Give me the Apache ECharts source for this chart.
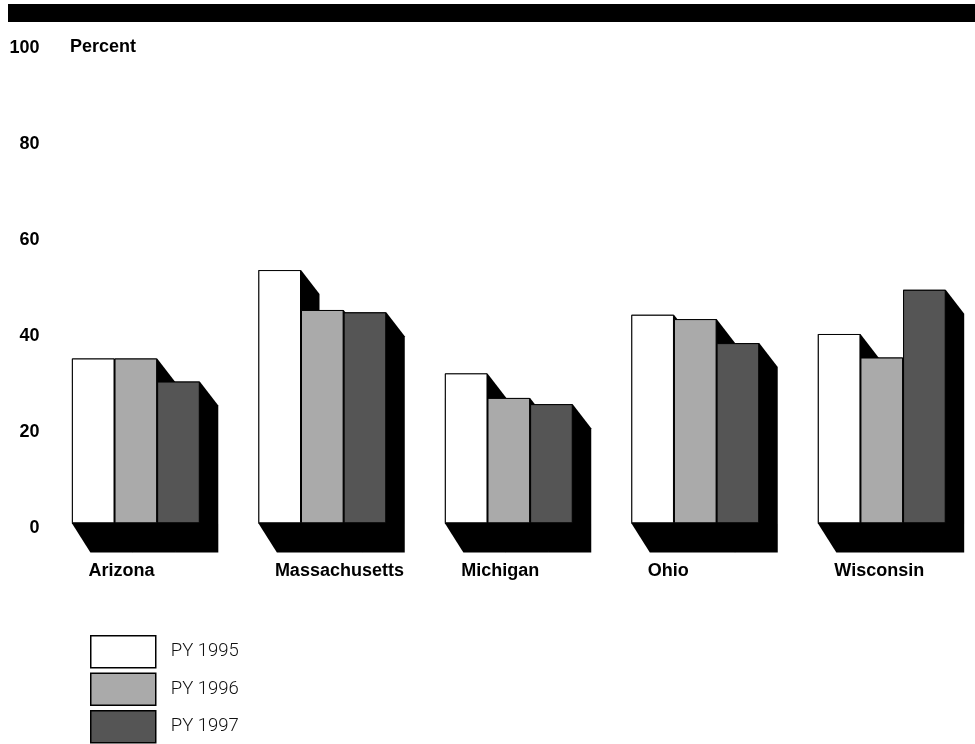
<!DOCTYPE html>
<html>
<head>
<meta charset="utf-8">
<script src="https://cdn.jsdelivr.net/npm/echarts@6/dist/echarts.min.js"></script>
<style>
html,body{margin:0;padding:0;background:#fff;}
#chart{width:975px;height:744px;}
</style>
</head>
<body>
<div id="chart"></div>
<script>
const categories = ['Arizona', 'Massachusetts', 'Michigan', 'Ohio', 'Wisconsin'];
const py1995 = [34.3, 52.7, 31.2, 43.4, 39.4];
const py1996 = [34.3, 44.4, 26.1, 42.5, 34.5];
const py1997 = [29.5, 43.9, 24.8, 37.5, 48.6];
const seriesNames = ['PY 1995', 'PY 1996', 'PY 1997'];
const yMin = 0, yMax = 100, yStep = 20;

const BAR_RATIO = 0.2286;
const DX = 18.5, DYT = 24, DYB = 29.3;
const colors = ['#ffffff', '#aaaaaa', '#555555'];
const legendTops = [635, 672.5, 710];

const chart = echarts.init(document.getElementById('chart'), null, {renderer: 'canvas'});

function renderShadow(params, api) {
  const i = api.value(0);
  const base = api.coord([i, 0]);
  const bandW = api.size([1, 0])[0];
  const bw = bandW * BAR_RATIO;
  const x0 = base[0] - 1.5 * bw;
  const yB = base[1];
  const children = [];
  for (let k = 0; k < 3; k++) {
    const v = api.value(k + 1);
    const yT = api.coord([i, v])[1];
    const a = x0 + k * bw, b = a + bw;
    children.push({
      type: 'polygon',
      shape: {points: [[a, yB], [a + DX, yB + DYB], [b + DX, yB + DYB], [b + DX, yT + DYT], [b, yT], [a, yT]]},
      style: {fill: '#000'}
    });
  }
  children.push({
    type: 'text',
    style: {
      text: categories[i], x: x0 + 16.5, y: yB + 47.5,
      align: 'left', verticalAlign: 'middle',
      fontFamily: 'Liberation Sans, Arial, sans-serif', fontWeight: 'bold', fontSize: 18, fill: '#000'
    }
  });
  return {type: 'group', children};
}

const barSeries = [py1995, py1996, py1997].map((d, k) => ({
  name: seriesNames[k],
  type: 'bar',
  data: d,
  barWidth: (BAR_RATIO * 100) + '%',
  barGap: '0%',
  z: 3,
  itemStyle: {color: colors[k], borderColor: '#000', borderWidth: 1}
}));

const legends = seriesNames.map((n, k) => ({
  orient: 'vertical', left: 90, top: legendTops[k], padding: 0,
  itemWidth: 65, itemHeight: 32, icon: 'rect',
  selectedMode: false,
  data: [n],
  itemStyle: {borderColor: '#000', borderWidth: 1.5},
  textStyle: {fontFamily: 'Roboto, Lato, sans-serif', fontWeight: 300, fontSize: 18.5, color: '#111', padding: [4, 0, 0, 10]}
}));

chart.setOption({
  animation: false,
  backgroundColor: '#fff',
  grid: {left: 42.6, top: 42.8, width: 934, height: 480.5, containLabel: false},
  xAxis: {
    type: 'category', data: categories,
    axisLine: {show: false}, axisTick: {show: false}, axisLabel: {show: false}, splitLine: {show: false}
  },
  yAxis: {
    type: 'value', min: yMin, max: yMax, interval: yStep,
    axisLine: {show: false}, axisTick: {show: false}, splitLine: {show: false},
    axisLabel: {
      color: '#000', fontWeight: 'bold', fontSize: 18,
      fontFamily: 'Liberation Sans, Arial, sans-serif', margin: 3,
      verticalAlign: 'top', lineHeight: 10
    }
  },
  legend: legends,
  graphic: [
    {type: 'rect', left: 8, top: 4, shape: {width: 967, height: 18}, style: {fill: '#000'}},
    {type: 'text', left: 70, top: 38, style: {text: 'Percent', fontFamily: 'Liberation Sans, Arial, sans-serif', fontWeight: 'bold', fontSize: 18, fill: '#000'}}
  ],
  series: [
    {
      type: 'custom', name: 'shadow', z: 1,
      renderItem: renderShadow,
      encode: {x: 0, y: 1},
      data: categories.map((c, i) => [i, py1995[i], py1996[i], py1997[i]]),
      silent: true
    }
  ].concat(barSeries)
});
</script>
</body>
</html>
